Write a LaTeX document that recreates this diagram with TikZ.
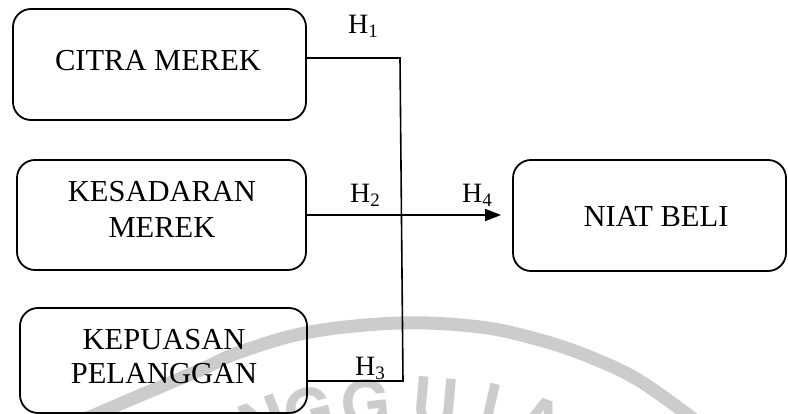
\documentclass[tikz,border=0pt]{standalone}
\usepackage{fontspec}
\setmainfont{Liberation Serif}
\newfontfamily\wmfont{TeX Gyre Heros}
\usetikzlibrary{arrows.meta}
\definecolor{wm}{HTML}{CCCCCC}
\newcommand{\hsub}[1]{H\raisebox{-4pt}{\fontsize{19}{19}\selectfont #1}}
\begin{document}
\begin{tikzpicture}[x=1pt,y=-1pt,
  box/.style={draw, line width=1.8pt, rounded corners=18pt, inner sep=0pt},
  boxtext/.style={anchor=base, inner sep=0pt, align=center, font=\fontsize{30.5}{35}\selectfont},
  conn/.style={line width=1.6pt},
  hlab/.style={anchor=base west, inner sep=0pt, font=\fontsize{28}{28}\selectfont},
  wmletter/.style={anchor=north, inner sep=0pt, text=wm, font=\wmfont\bfseries\fontsize{64}{64}\selectfont}]
\useasboundingbox (0,0) rectangle (788,414);
\clip (0,0) rectangle (788,414);
% watermark
\draw[wm, line width=13pt] plot[smooth, tension=0.6] coordinates {(60,430) (120,404) (200,370) (240,352) (310,332) (400,323) (480,327) (540,340) (590,357) (640,381) (700,424)};
\node[wmletter, rotate=21] (wa) at (255,400) {N};
\node[wmletter, rotate=14] (wb) at (303,388) {G};
\node[wmletter, rotate=6] (wc) at (363,380) {G};
\node[wmletter, rotate=-5] (wd) at (438,378) {U};
\node[wmletter, rotate=-13] (we) at (505,386) {L};
\node[wmletter, rotate=-19] (wf) at (548,400) {A};
% boxes
\node[box, minimum width=293pt, minimum height=111pt] (b1) at (159.5,64.5) {};
\node[box, minimum width=289pt, minimum height=110pt] (b2) at (161.5,215) {};
\node[box, minimum width=287pt, minimum height=105pt] (b3) at (163.5,360.5) {};
\node[box, minimum width=273pt, minimum height=111pt] (b4) at (649.5,215.5) {};
\node[boxtext] (t1) at (158,71) {CITRA MEREK};
\node[boxtext, font=\fontsize{30.5}{36}\selectfont] (t2) at (162,238) {KESADARAN\\MEREK};
\node[boxtext, font=\fontsize{30.5}{34}\selectfont] (t3) at (164,384) {KEPUASAN\\PELANGGAN};
\node[boxtext] (t4) at (656,227) {NIAT BELI};
% connectors
\coordinate (c1) at (400,58);
\coordinate (c3) at (403,381);
\draw[conn] (b1.east |- c1) -- (c1) -- (c3) -- (b3.east |- c3);
\draw[conn, -{Triangle[length=16pt,width=12pt]}, shorten >=11pt] (b2.east) -- (b2.east -| b4.west);
% labels
\node[hlab] (h1) at (348,34) {\hsub{1}};
\node[hlab] (h2) at (350,203) {\hsub{2}};
\node[hlab] (h3) at (355,376) {\hsub{3}};
\node[hlab] (h4) at (462,203) {\hsub{4}};
\end{tikzpicture}
\end{document}
